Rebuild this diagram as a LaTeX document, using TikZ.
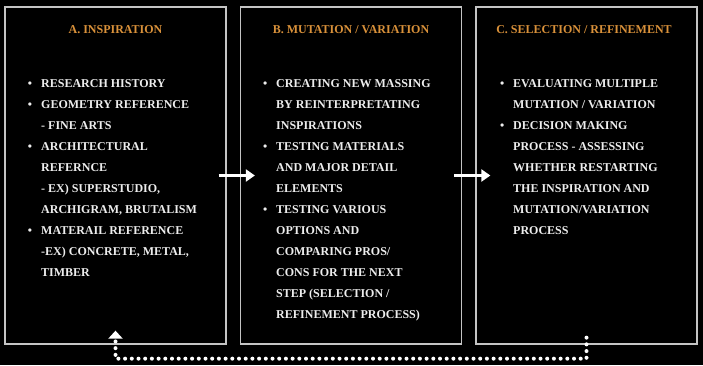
\documentclass[tikz,border=0pt]{standalone}
\usepackage{fontspec}
\setmainfont{Liberation Serif}
\usetikzlibrary{arrows.meta}

\definecolor{stageorange}{HTML}{D9913A}
\definecolor{framegray}{HTML}{C4C4C4}
\definecolor{textwhite}{HTML}{EDEDED}
\newcommand{\itm}{\llap{\textbullet\hspace{9pt}}}

\begin{document}
\begin{tikzpicture}[x=1pt,y=1pt,
  stage/.style={draw=framegray, line width=1.3pt, minimum width=221pt, minimum height=337pt, inner sep=0pt},
  title/.style={text=stageorange, font=\bfseries\fontsize{12}{14}\selectfont},
  items/.style={text=textwhite, font=\bfseries\fontsize{12}{21}\selectfont, align=left, anchor=north west, inner sep=0pt},
  flow/.style={white, line width=3pt, -{Triangle[length=9pt,width=12pt]}},
  loop/.style={white, line width=4pt, line cap=round, dash pattern=on 0pt off 6.7pt, -{Triangle[length=8pt,width=14pt]}}]
% background
\fill[black] (0,0) rectangle (703,365);
% the three stages
\node[stage] (inspire) at (115.5,189.5) {};
\node[stage] (mutate) at (351,189.5) {};
\node[stage] (select) at (586.5,189.5) {};
% headings
\node[title] (inspireT) at (115.5,335) {A. INSPIRATION};
\node[title] (mutateT) at (351,335) {B. MUTATION / VARIATION};
\node[title] (selectT) at (584,335) {C. SELECTION / REFINEMENT};
% bullet lists
\node[items] (inspireL) at (41,286) {\itm RESEARCH HISTORY\\
  \itm GEOMETRY REFERENCE\\ - FINE ARTS\\
  \itm ARCHITECTURAL\\ REFERNCE\\ - EX) SUPERSTUDIO,\\ ARCHIGRAM, BRUTALISM\\
  \itm MATERAIL REFERENCE\\ -EX) CONCRETE, METAL,\\ TIMBER};
\node[items] (mutateL) at (276,286) {\itm CREATING NEW MASSING\\ BY REINTERPRETATING\\ INSPIRATIONS\\
  \itm TESTING MATERIALS\\ AND MAJOR DETAIL\\ ELEMENTS\\
  \itm TESTING VARIOUS\\ OPTIONS AND\\ COMPARING PROS/\\ CONS FOR THE NEXT\\ STEP (SELECTION /\\ REFINEMENT PROCESS)};
\node[items] (selectL) at (513,286) {\itm EVALUATING MULTIPLE\\ MUTATION / VARIATION\\
  \itm DECISION MAKING\\ PROCESS - ASSESSING\\ WHETHER RESTARTING\\ THE INSPIRATION AND\\ MUTATION/VARIATION\\ PROCESS};
% forward arrows
\draw[flow] ([xshift=-8pt]inspire.east) -- ([xshift=15pt]mutate.west);
\draw[flow] ([xshift=-8pt]mutate.east) -- ([xshift=15pt]select.west);
% dotted loop back to the start
\draw[loop] ([yshift=7pt]select.south) -- ++(0,-21) -| ([yshift=14pt]inspire.south);
\end{tikzpicture}
\end{document}
